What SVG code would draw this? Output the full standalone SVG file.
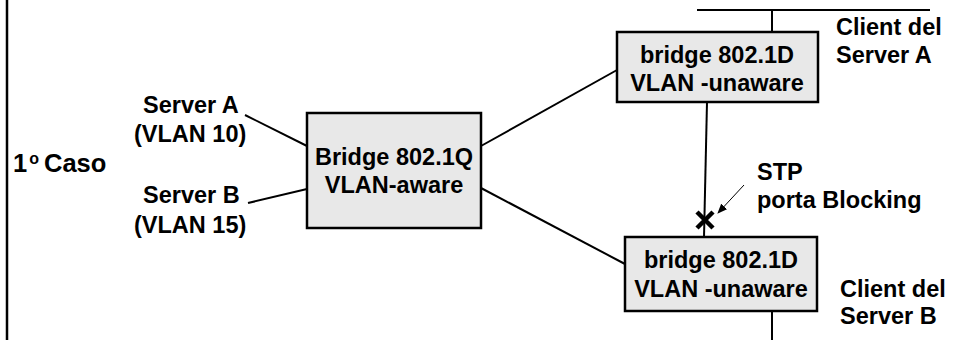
<svg xmlns="http://www.w3.org/2000/svg" width="955" height="340" viewBox="0 0 955 340">
<defs>
<style>
text{font-family:"Liberation Sans",Arial,sans-serif;font-weight:bold;font-size:23.5px;fill:#000}
.box{fill:#e8e8e8;stroke:#000;stroke-width:2.5}
.ln{stroke:#000;stroke-width:2;fill:none}
.c{text-anchor:middle}
</style>
<marker id="ah" markerWidth="10" markerHeight="8" refX="9" refY="4" orient="auto" markerUnits="userSpaceOnUse">
<path d="M0,0 L10,4 L0,8 Z" fill="#000"/>
</marker>
</defs>
<rect width="955" height="340" fill="#fff"/>
<line x1="7" y1="0" x2="7" y2="340" stroke="#000" stroke-width="2.5"/>
<text x="13" y="172" style="font-size:25.5px">1<tspan dx="2" dy="-8" style="font-size:16px">o</tspan><tspan dx="5" dy="8">Caso</tspan></text>
<g id="connectors">
<line class="ln" x1="245" y1="115" x2="307" y2="146"/>
<line class="ln" x1="248" y1="203" x2="307" y2="189"/>
<line class="ln" x1="481" y1="146" x2="617" y2="70"/>
<line class="ln" x1="481" y1="188" x2="625" y2="264"/>
<line class="ln" x1="707" y1="102" x2="704" y2="237"/>
<line class="ln" x1="697" y1="10" x2="930" y2="10"/>
<line class="ln" x1="772" y1="10" x2="772" y2="32"/>
<line class="ln" x1="772" y1="311" x2="772" y2="340"/>
<line stroke="#000" stroke-width="1" x1="744" y1="185" x2="718" y2="213" marker-end="url(#ah)"/>
<path d="M697,212 L713,228 M713,212 L697,228" stroke="#000" stroke-width="4.5"/>
</g>
<g id="serverA">
<text x="143" y="113">Server A</text>
<text x="134" y="142">(VLAN 10)</text>
</g>
<g id="serverB">
<text x="143" y="203">Server B</text>
<text x="134" y="233">(VLAN 15)</text>
</g>
<g id="bridgeQ">
<rect class="box" x="307" y="113" width="174" height="115"/>
<text class="c" x="394" y="165">Bridge 802.1Q</text>
<text class="c" x="394" y="193">VLAN-aware</text>
</g>
<g id="bridgeD1">
<rect class="box" x="617" y="32" width="201" height="70"/>
<text class="c" x="717" y="63">bridge 802.1D</text>
<text class="c" x="717" y="91">VLAN -unaware</text>
</g>
<g id="bridgeD2">
<rect class="box" x="625" y="237" width="192" height="74"/>
<text class="c" x="721" y="268">bridge 802.1D</text>
<text class="c" x="721" y="297">VLAN -unaware</text>
</g>
<g id="clientA">
<text x="836" y="35">Client del</text>
<text x="836" y="63">Server A</text>
</g>
<g id="clientB">
<text x="840" y="297">Client del</text>
<text x="840" y="324">Server B</text>
</g>
<g id="stp">
<text x="757" y="180">STP</text>
<text x="757" y="208">porta Blocking</text>
</g>
</svg>
